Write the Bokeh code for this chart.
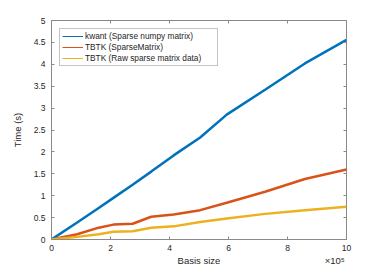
from bokeh.plotting import figure
from bokeh.models import Range1d, LinearAxis, FixedTicker, Legend, LegendItem
from bokeh.embed import file_html
from bokeh.resources import INLINE

# Basis size in units of 1e5
basis_size_e5 = [0, 0.87, 1.6, 2.1, 2.75, 3.38, 4.14, 5.04, 5.94, 7.24, 8.59, 10]
kwant = [0, 0.39, 0.72, 0.95, 1.25, 1.55, 1.92, 2.33, 2.85, 3.42, 4.02, 4.56]
tbtk_sparse = [0, 0.12, 0.27, 0.34, 0.36, 0.52, 0.57, 0.67, 0.84, 1.09, 1.38, 1.60]
tbtk_raw = [0, 0.06, 0.12, 0.175, 0.19, 0.27, 0.30, 0.40, 0.48, 0.585, 0.67, 0.745]
series_names = ["kwant (Sparse numpy matrix)", "TBTK (SparseMatrix)", "TBTK (Raw sparse matrix data)"]
colors = ["#0072BD", "#D95319", "#EDB120"]
x_ticks = [0, 2, 4, 6, 8, 10]
y_ticks = [0, 0.5, 1, 1.5, 2, 2.5, 3, 3.5, 4, 4.5, 5]
x_label = "Basis size"
x_exponent = "×10⁵"

FONT = "Liberation Sans"
TXT = "#262626"
AX = "#8a8a8a"

p = figure(width=383, height=271, output_backend="svg", toolbar_location=None,
           x_range=Range1d(0, 10), y_range=Range1d(0, 5),
           min_border_left=51, min_border_right=37, min_border_top=20, min_border_bottom=32)
p.xgrid.visible = False
p.ygrid.visible = False
p.outline_line_color = AX
p.outline_line_width = 1
p.background_fill_color = "white"
p.border_fill_color = "white"

for ax in (p.xaxis[0], p.yaxis[0]):
    ax.axis_line_color = AX
    ax.major_tick_line_color = AX
    ax.minor_tick_line_color = None
    ax.major_tick_in = 3
    ax.major_tick_out = 0
    ax.major_label_text_font = FONT
    ax.major_label_text_font_size = "8.5px"
    ax.major_label_text_color = TXT
    ax.axis_label_text_font = FONT
    ax.axis_label_text_font_size = "9.5px"
    ax.axis_label_text_font_style = "normal"
    ax.axis_label_text_color = TXT

p.xaxis[0].ticker = FixedTicker(ticks=x_ticks)
p.yaxis[0].ticker = FixedTicker(ticks=y_ticks)
p.yaxis[0].axis_label = "Time (s)"
p.xaxis[0].major_label_standoff = 5
p.yaxis[0].major_label_standoff = 6
p.yaxis[0].axis_label_standoff = 8

# second row below: axis label and exponent on the same line
lab = LinearAxis(ticker=FixedTicker(ticks=[5, 9.6]),
                 major_label_overrides={5: x_label, 9.6: x_exponent})
lab.axis_line_color = None
lab.major_tick_line_color = None
lab.minor_tick_line_color = None
lab.major_tick_in = 0
lab.major_tick_out = 0
lab.major_label_standoff = 1
lab.major_label_text_font = FONT
lab.major_label_text_font_size = "9.5px"
lab.major_label_text_color = TXT
p.add_layout(lab, "below")

# box ticks on top and right
for loc, ticks in (("above", x_ticks), ("right", y_ticks)):
    a = LinearAxis(ticker=FixedTicker(ticks=ticks))
    a.axis_line_color = None
    a.major_tick_line_color = AX
    a.minor_tick_line_color = None
    a.major_tick_in = 3
    a.major_tick_out = 0
    a.major_label_text_font_size = "0px"
    a.major_label_text_alpha = 0
    a.major_label_standoff = 0
    p.add_layout(a, loc)

series = [kwant, tbtk_sparse, tbtk_raw]
items = []
nan = float("nan")
for name, ys, c in zip(series_names, series, colors):
    p.line(basis_size_e5, ys, line_color=c, line_width=2.5)
    dummy = p.line(x=[nan, nan], y=[nan, nan], line_color=c, line_width=1)
    items.append(LegendItem(label=name, renderers=[dummy]))

legend = Legend(items=items, location="top_left", margin=8,
                label_text_font=FONT, label_text_font_size="8.3px", label_text_color=TXT,
                glyph_width=21, glyph_height=10, label_height=10, label_standoff=2,
                label_width=130, spacing=1, padding=2,
                border_line_color=AX, border_line_width=1,
                background_fill_color="white", background_fill_alpha=1)
p.add_layout(legend, "center")

open("out.html", "w").write(file_html(p, INLINE))
